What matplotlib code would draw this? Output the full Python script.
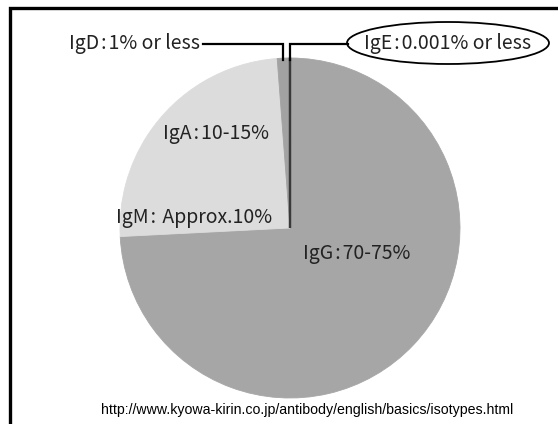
import matplotlib
matplotlib.use("Agg")
import matplotlib.pyplot as plt
from matplotlib.patches import Ellipse

# Serum immunoglobulin isotype shares (percent of total)
isotypes = ["IgG", "IgM", "IgA", "IgD", "IgE"]
shares = [74.2, 10.0, 14.6, 1.2, 0.001]
sep = "\u200a:\u200a"
labels = {
    "IgG": "IgG" + sep + "70-75%",
    "IgM": "IgM" + sep + " Approx.10%",
    "IgA": "IgA" + sep + "10-15%",
    "IgD": "IgD" + sep + "1% or less",
    "IgE": "IgE" + sep + "0.001% or less",
}
source = "http://www.kyowa-kirin.co.jp/antibody/english/basics/isotypes.html"

colors = {"IgG": "#a6a6a6", "IgM": "#dcdcdc", "IgA": "#dcdcdc",
          "IgD": "#a2a2a2", "IgE": "#3a3a3a"}

W, H = 558, 424
fig = plt.figure(figsize=(W / 100, H / 100), dpi=100)
ax = fig.add_axes([0, 0, 1, 1])


def Y(y):
    return H - y


cx, cy, r = 290, 228, 170
wedges, _ = ax.pie(shares, colors=[colors[k] for k in isotypes],
                   startangle=90, counterclock=False,
                   center=(cx, Y(cy)), radius=r, frame=True)
ax.set_xlim(0, W)
ax.set_ylim(0, H)
ax.axis("off")
for w, k in zip(wedges, isotypes):
    if k == "IgE":
        w.set_edgecolor("#3a3a3a")
        w.set_linewidth(1.6)
    else:
        w.set_edgecolor(colors[k])
        w.set_linewidth(0.6)

fam = ["Noto Sans CJK JP", "DejaVu Sans"]
tc = "#222222"
fs = 14

# labels inside the pie
ax.text(303, Y(253), labels["IgG"], family=fam, fontsize=fs, color=tc,
        ha="left", va="center")
ax.text(163, Y(133), labels["IgA"], family=fam, fontsize=fs, color=tc,
        ha="left", va="center")
ax.text(116, Y(217), labels["IgM"], family=fam, fontsize=fs, color=tc,
        ha="left", va="center")

# callouts above the pie
ax.text(200, Y(44), labels["IgD"], family=fam, fontsize=fs, color=tc,
        ha="right", va="center")
ax.plot([203, 283, 283], [Y(44), Y(44), Y(60)], color="black", lw=1.6,
        solid_joinstyle="miter")
ax.text(448, Y(44), labels["IgE"], family=fam, fontsize=fs, color=tc,
        ha="center", va="center")
ax.plot([289.5, 289.5, 348], [Y(60), Y(44), Y(44)], color="black", lw=1.6,
        solid_joinstyle="miter")
ax.add_patch(Ellipse((448, Y(43)), 202, 42, fill=False, edgecolor="black",
                     lw=1.3))

# source line
ax.text(307, Y(410), source, family="Liberation Sans", fontsize=10.2,
        color="black", ha="center", va="center")

# frame
ax.plot([9.5, 9.5, W], [0, Y(8), Y(8)], color="black", lw=2.4,
        solid_joinstyle="miter")

fig.savefig("out.png", dpi=100)
